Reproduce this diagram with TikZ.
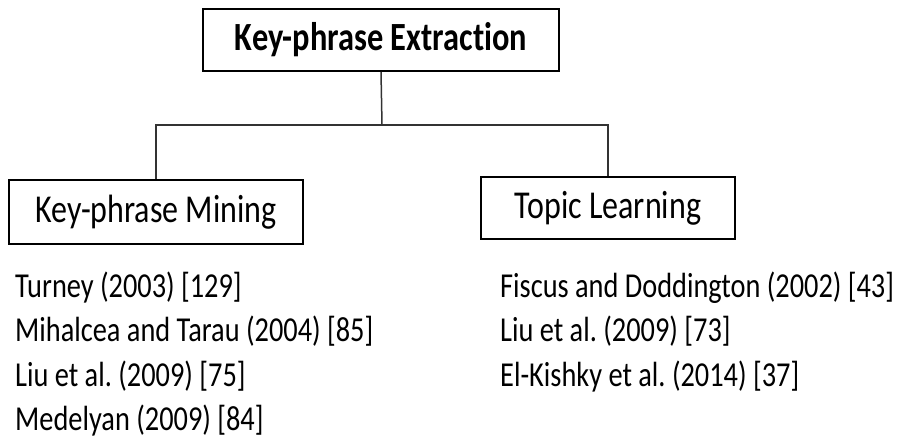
\documentclass[tikz,border=0pt]{standalone}
\usepackage{fontspec}
\newfontfamily\calfont[FakeStretch=0.81,Ligatures={NoCommon}]{Carlito}
\frenchspacing
\begin{document}
\begin{tikzpicture}[x=1pt,y=-1pt,
  box/.style={draw=black,line width=1.6pt,rectangle,inner sep=0pt,align=center,
    font=\calfont\fontsize{39.5}{44}\selectfont},
  ref/.style={anchor=base west,inner sep=0pt,font=\calfont\fontsize{35}{40}\selectfont},
  link/.style={draw=black!80,line width=1.5pt}]
\useasboundingbox[fill=white] (0,0) rectangle (902,439);
\node[box,minimum width=356pt,minimum height=62pt,font=\calfont\bfseries\fontsize{40}{44}\selectfont] (top) at (381,40) {Key-phrase Extraction};
\node[box,minimum width=294pt,minimum height=64pt] (kpm) at (156,212) {Key-phrase Mining};
\node[box,minimum width=254pt,minimum height=62pt] (tl) at (608,208) {Topic Learning};
\coordinate (bus) at (382,125);
\draw[link] (top.south) -- (bus);
\draw[link] (kpm.north) |- (bus) -| (tl.north);
\node[ref] (l1) at (15,297) {Turney (2003) [129]};
\node[ref] (l2) at (15,341) {Mihalcea and Tarau (2004) [85]};
\node[ref] (l3) at (15,386) {Liu et al. (2009) [75]};
\node[ref] (l4) at (15,430) {Medelyan (2009) [84]};
\node[ref] (r1) at (500,297) {Fiscus and Doddington (2002) [43]};
\node[ref] (r2) at (500,341) {Liu et al. (2009) [73]};
\node[ref] (r3) at (500,386) {El-Kishky et al. (2014) [37]};
\end{tikzpicture}
\end{document}
